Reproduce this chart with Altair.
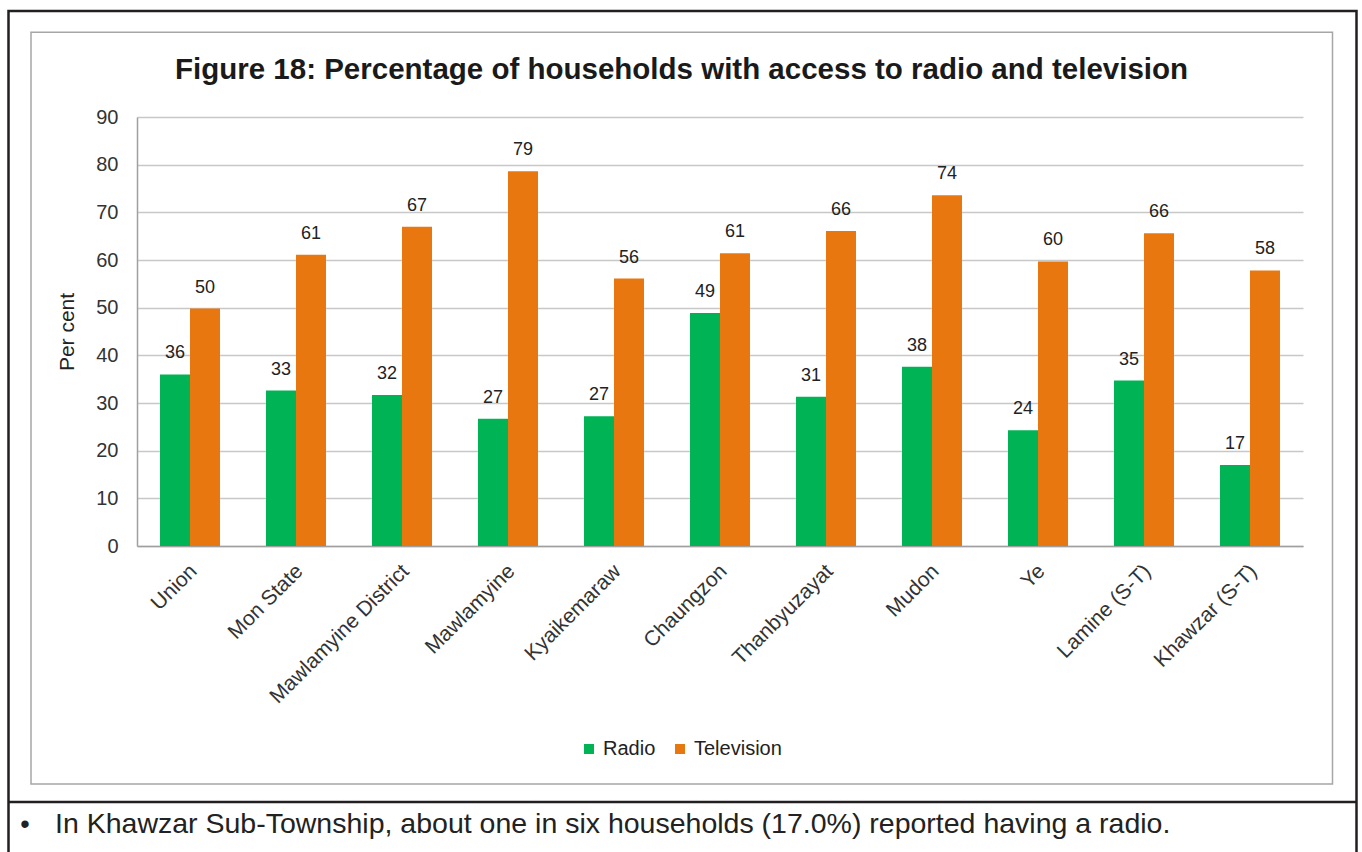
import altair as alt
import pandas as pd

categories = ["Union", "Mon State", "Mawlamyine District", "Mawlamyine", "Kyaikemaraw",
              "Chaungzon", "Thanbyuzayat", "Mudon", "Ye", "Lamine (S-T)", "Khawzar (S-T)"]
radio = [36.0, 32.6, 31.7, 26.7, 27.2, 48.9, 31.3, 37.6, 24.3, 34.7, 17.0]
television = [49.8, 61.1, 67.0, 78.6, 56.1, 61.4, 66.1, 73.6, 59.7, 65.6, 57.8]
series = ["Radio", "Television"]
colors = ["#00B354", "#E8770F"]
y_ticks = [0, 10, 20, 30, 40, 50, 60, 70, 80, 90]

title_text = "Figure 18: Percentage of households with access to radio and television"
note_text = "In Khawzar Sub-Township, about one in six households (17.0%) reported having a radio."

rows = []
for c, r, t in zip(categories, radio, television):
    rows.append({"area": c, "series": "Radio", "value": r})
    rows.append({"area": c, "series": "Television", "value": t})
df = pd.DataFrame(rows)

FONT = "Liberation Sans"
W, H = 1166, 429

x_enc = alt.X("area:N", sort=categories, title=None,
              scale=alt.Scale(paddingInner=0.434, paddingOuter=0.217),
              axis=alt.Axis(labelAngle=-45, labelAlign="right", labelBaseline="top",
                            labelFontSize=21, labelColor="#333333", labelFont=FONT,
                            labelLimit=400,
                            ticks=False, tickSize=0, labelPadding=14, labelOffset=-4,
                            domainColor="#a0a0a0", domainWidth=1.5))
y_enc = alt.Y("value:Q", scale=alt.Scale(domain=[0, 90], nice=False),
              axis=alt.Axis(values=y_ticks, title="Per cent", grid=True,
                            gridColor="#c8c8c8", gridWidth=1.5,
                            ticks=False, tickSize=0, labelPadding=19,
                            labelFontSize=20, labelColor="#333333", labelFont=FONT,
                            domainColor="#a0a0a0", domainWidth=1.5,
                            titleFontSize=21, titleFont=FONT, titleFontWeight="normal",
                            titleColor="#222222", titlePadding=18))
xo_enc = alt.XOffset("series:N", sort=series, scale=alt.Scale(paddingInner=0, paddingOuter=0))
color_enc = alt.Color("series:N", sort=series,
                      scale=alt.Scale(domain=series, range=colors),
                      legend=alt.Legend(title=None, orient="none", legendX=442, legendY=622,
                                        direction="horizontal", symbolType="square",
                                        symbolSize=100, symbolStrokeWidth=0,
                                        labelFontSize=20, labelFont=FONT, labelColor="#222222",
                                        columnPadding=14, labelOffset=4, padding=0))

bars = alt.Chart(df).mark_bar().encode(x=x_enc, y=y_enc, xOffset=xo_enc, color=color_enc)

labels = alt.Chart(df).mark_text(fontSize=18, font=FONT, color="#222222",
                                 baseline="alphabetic", dy=-16).encode(
    x=alt.X("area:N", sort=categories),
    y=alt.Y("value:Q"),
    xOffset=alt.XOffset("series:N", sort=series),
    text=alt.Text("value:Q", format=".0f"),
)

deco = alt.Data(values=[{"k": 1}])
outer = alt.Chart(deco).mark_rect(fillOpacity=0, stroke="#231f20", strokeWidth=2.5).encode(
    x=alt.value(-128.5), x2=alt.value(1219.5), y=alt.value(-106), y2=alt.value(760))
divider = alt.Chart(deco).mark_rule(stroke="#231f20", strokeWidth=2.5).encode(
    x=alt.value(-128.5), x2=alt.value(1219.5), y=alt.value(685))
inner = alt.Chart(deco).mark_rect(fillOpacity=0, stroke="#a6a6a6", strokeWidth=1.5).encode(
    x=alt.value(-106), x2=alt.value(1195.5), y=alt.value(-84.7), y2=alt.value(667))
title = alt.Chart(deco).mark_text(text=title_text, fontSize=29.5, font=FONT, fontWeight="bold",
                                  color="#1a1a1a", align="left", baseline="alphabetic").encode(
    x=alt.value(38), y=alt.value(-38))
bullet = alt.Chart(deco).mark_text(text="•", fontSize=27, font=FONT, color="#222222",
                                   align="center", baseline="alphabetic").encode(
    x=alt.value(-112), y=alt.value(716))
note = alt.Chart(deco).mark_text(text=note_text, fontSize=28.5, font=FONT, color="#222222",
                                 align="left", baseline="alphabetic").encode(
    x=alt.value(-82), y=alt.value(716))

chart = alt.layer(outer, divider, inner, bars, labels, title, bullet, note).properties(
    width=W, height=H,
    autosize=alt.AutoSizeParams(type="none"),
    padding={"left": 137, "top": 117, "right": 59, "bottom": 306},
    background="white",
).configure_view(stroke=None)

chart.save("out.html", embed_options={"renderer": "svg", "actions": False})
